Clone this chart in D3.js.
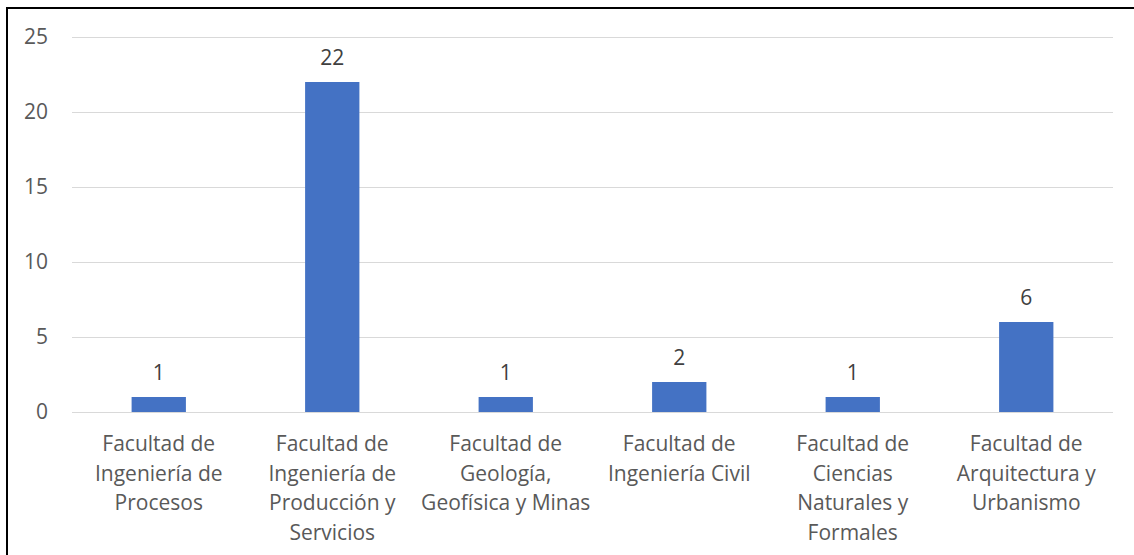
<!DOCTYPE html>
<html>
<head>
<meta charset="utf-8">
<script src="https://d3js.org/d3.v7.min.js"></script>
<style>
  body { margin: 0; background: #fff; }
  svg { display: block; }
</style>
</head>
<body>
<svg id="chart" width="1134" height="555"></svg>
<script>
// data
var categories = [
  ["Facultad de", "Ingeniería de", "Procesos"],
  ["Facultad de", "Ingeniería de", "Producción y", "Servicios"],
  ["Facultad de", "Geología,", "Geofísica y Minas"],
  ["Facultad de", "Ingeniería Civil"],
  ["Facultad de", "Ciencias", "Naturales y", "Formales"],
  ["Facultad de", "Arquitectura y", "Urbanismo"]
];
var values = [1, 22, 1, 2, 1, 6];
var yTicks = [0, 5, 10, 15, 20, 25];

var plotLeft = 72, plotRight = 1113, plotTop = 37, plotBottom = 412;

var svg = d3.select("#chart");
var font = "'Open Sans', sans-serif";
var fontSize = 21;

// outer frame
svg.append("path")
  .attr("d", "M7,555 V8 H1134")
  .attr("fill", "none")
  .attr("stroke", "#000")
  .attr("stroke-width", 2);

var x = d3.scaleBand()
  .domain(d3.range(categories.length))
  .range([plotLeft, plotRight])
  .paddingInner(0.687)
  .paddingOuter(0.3435);

var y = d3.scaleLinear().domain([0, 25]).range([plotBottom, plotTop]);

// gridlines
svg.append("g").selectAll("line")
  .data(yTicks)
  .join("line")
  .attr("x1", plotLeft).attr("x2", plotRight)
  .attr("y1", function(d) { return y(d) + 0.5; })
  .attr("y2", function(d) { return y(d) + 0.5; })
  .attr("stroke", "#d9d9d9")
  .attr("stroke-width", 1);

// y tick labels
svg.append("g").selectAll("text")
  .data(yTicks)
  .join("text")
  .attr("x", 48)
  .attr("y", function(d) { return y(d); })
  .attr("dy", "0.35em")
  .attr("text-anchor", "end")
  .attr("font-family", font)
  .attr("font-size", fontSize)
  .attr("fill", "#595959")
  .text(function(d) { return d; });

// bars
svg.append("g").selectAll("rect")
  .data(values)
  .join("rect")
  .attr("x", function(d, i) { return x(i); })
  .attr("y", function(d) { return y(d); })
  .attr("width", x.bandwidth())
  .attr("height", function(d) { return y(0) - y(d); })
  .attr("fill", "#4472c4");

// data labels
svg.append("g").selectAll("text")
  .data(values)
  .join("text")
  .attr("x", function(d, i) { return x(i) + x.bandwidth() / 2; })
  .attr("y", function(d) { return y(d) - 17; })
  .attr("text-anchor", "middle")
  .attr("font-family", font)
  .attr("font-size", fontSize)
  .attr("fill", "#404040")
  .text(function(d) { return d; });

// category labels
var cats = svg.append("g").selectAll("text")
  .data(categories)
  .join("text")
  .attr("text-anchor", "middle")
  .attr("font-family", font)
  .attr("font-size", fontSize)
  .attr("fill", "#595959");

cats.selectAll("tspan")
  .data(function(d, i) { return d.map(function(t) { return { t: t, i: i }; }); })
  .join("tspan")
  .attr("x", function(d) { return x(d.i) + x.bandwidth() / 2; })
  .attr("y", function(d, j) { return 451 + j * 29.7; })
  .text(function(d) { return d.t; });
</script>
</body>
</html>
